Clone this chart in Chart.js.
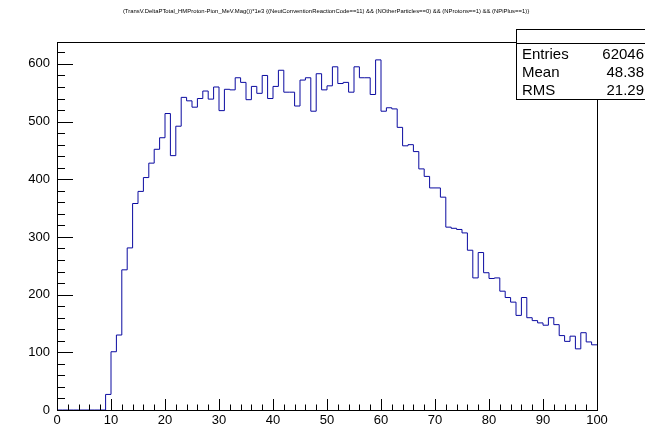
<!DOCTYPE html>
<html>
<head>
<meta charset="utf-8">
<script src="https://cdn.jsdelivr.net/npm/chart.js@4.4.1/dist/chart.umd.min.js"></script>
<style>
  html,body{margin:0;padding:0;background:#fff}
  #wrap{width:645px;height:426px}
</style>
</head>
<body>
<div id="wrap"><canvas id="histo" width="645" height="426"></canvas></div>
<script>
/* ===== Data ===== */
const TITLE = "(TransV.DeltaPTotal_HMProton-Pion_MeV.Mag())*1e3 {(NeutConventionReactionCode==11) && (NOtherParticles==0) && (NProtons==1) && (NPiPlus==1)}";
const X_MIN = 0, X_MAX = 100, BIN_WIDTH = 1;
const Y_MAX = 638;
const xTickStep = 10, xMinorStep = 2;
const yTickStep = 100, yMinorStep = 20;

// bin contents, bins [0,1) ... [99,100)
const counts = [
  0,0,0,0,0,0,0,0,0,27,
  101,130,243,281,358,379,403,428,452,472,
  514,441,492,542,536,525,540,553,539,560,
  519,556,555,576,568,538,561,549,580,540,
  561,589,551,551,527,572,576,518,583,555,
  562,595,566,568,551,595,576,576,547,607,
  518,524,522,490,458,460,448,418,405,385,
  385,369,317,315,313,307,277,229,273,238,
  228,229,206,195,187,164,195,160,155,151,
  147,160,148,129,119,128,106,134,118,113
];

const statLabels = ["Entries","Mean","RMS"];
const statValues = ["62046","48.38","21.29"];

const FONT = "'Liberation Sans', Arial, Helvetica, sans-serif";

/* ===== Histogram outline points (left bin edges + closing edge) ===== */
const points = counts.map((v,i)=>({x:X_MIN+i*BIN_WIDTH, y:v}));
points.push({x:X_MAX, y:counts[counts.length-1]});

/* ===== Title, frame, inward ticks, stats box ===== */
const rootFrame = {
  id:"rootFrame",
  afterDraw(chart){
    const {ctx, chartArea:a, scales:{x,y}} = chart;
    ctx.save();

    // title
    ctx.fillStyle = "#000";
    ctx.font = "5.9px "+FONT;
    ctx.textAlign = "center";
    ctx.textBaseline = "middle";
    ctx.fillText(TITLE, 326, 11);

    ctx.strokeStyle = "#000";
    ctx.lineWidth = 1;
    ctx.strokeRect(a.left+0.5, a.top+0.5, a.right-a.left, a.bottom-a.top);

    ctx.beginPath();
    for(let v=x.min; v<=x.max+1e-9; v+=xMinorStep){
      const px = Math.round(x.getPixelForValue(v))+0.5;
      const len = (v%xTickStep===0) ? 11 : 5.5;
      ctx.moveTo(px, a.bottom);
      ctx.lineTo(px, a.bottom-len);
    }
    for(let v=0; v<=y.max; v+=yMinorStep){
      const py = Math.round(y.getPixelForValue(v))+0.5;
      const len = (v%yTickStep===0) ? 16 : 8;
      ctx.moveTo(a.left, py);
      ctx.lineTo(a.left+len, py);
    }
    ctx.stroke();

    // stats box
    const bx = 516, by = 29, bw = 140, bh = 70;
    ctx.fillStyle = "#fff";
    ctx.fillRect(bx, by, bw, bh);
    ctx.strokeRect(bx+0.5, by+0.5, bw, bh);
    ctx.beginPath();
    ctx.moveTo(bx, 43.5);
    ctx.lineTo(bx+bw, 43.5);
    ctx.stroke();

    ctx.fillStyle = "#000";
    ctx.font = "15px "+FONT;
    const rows = [55, 73, 91];
    statLabels.forEach((l,i)=>{
      ctx.textAlign = "left";
      ctx.fillText(l, 522, rows[i]);
      ctx.textAlign = "right";
      ctx.fillText(statValues[i], 644, rows[i]);
    });
    ctx.restore();
  }
};

/* ===== Chart ===== */
new Chart(document.getElementById("histo"), {
  type:"line",
  data:{
    datasets:[{
      data:points,
      stepped:"before",
      borderColor:"#0a0aa0",
      borderWidth:1,
      pointRadius:0,
      fill:false
    }]
  },
  options:{
    responsive:false,
    animation:false,
    layout:{padding:{left:0,right:48,top:42,bottom:0}},
    plugins:{
      legend:{display:false},
      tooltip:{enabled:false},
      title:{display:false}
    },
    scales:{
      x:{
        type:"linear",
        min:X_MIN, max:X_MAX,
        border:{display:false},
        grid:{display:false, drawTicks:false},
        ticks:{stepSize:xTickStep, color:"#000", padding:3, maxRotation:0,
               font:{family:FONT,size:13}},
        afterFit(s){ s.height = 16; }
      },
      y:{
        min:0, max:Y_MAX,
        border:{display:false},
        grid:{display:false, drawTicks:false},
        ticks:{stepSize:yTickStep, color:"#000", padding:7,
               font:{family:FONT,size:13}},
        afterBuildTicks(s){ s.ticks = s.ticks.filter(t=>t.value%yTickStep===0); },
        afterFit(s){ s.width = 57; }
      }
    }
  },
  plugins:[rootFrame]
});
</script>
</body>
</html>
